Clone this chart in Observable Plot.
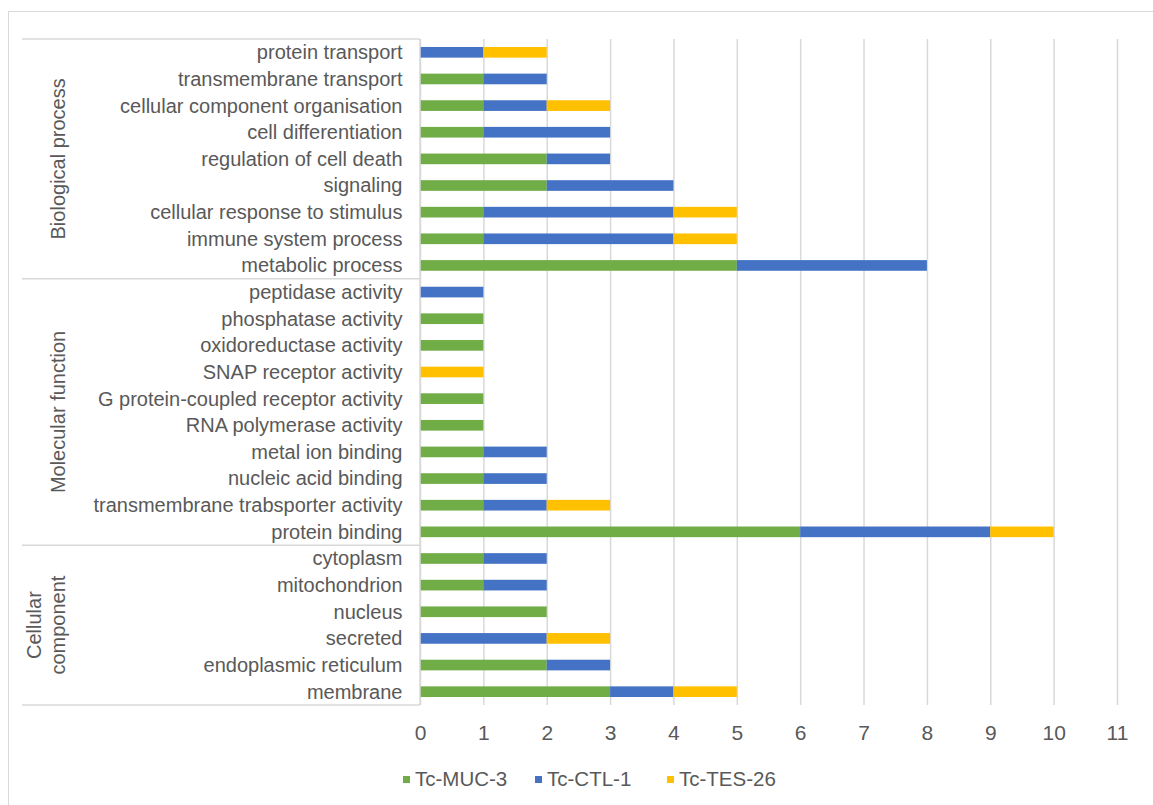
<!DOCTYPE html>
<html>
<head>
<meta charset="utf-8">
<script src="https://cdn.jsdelivr.net/npm/d3@7"></script>
<script src="https://cdn.jsdelivr.net/npm/@observablehq/plot@0.6"></script>
<style>
  html, body { margin: 0; padding: 0; background: #fff; }
  body { width: 1153px; height: 805px; position: relative; overflow: hidden; font-family: "Liberation Sans", Arial, sans-serif; }
  #frame { position: absolute; left: 8px; top: 11px; width: 1200px; height: 850px; border: 1.5px solid #d9d9d9; box-sizing: border-box; }
  #chart { position: absolute; left: 0; top: 0; }
  #legend { position: absolute; left: 403px; top: 767px; display: flex; font-size: 20.5px; color: #595959; }
  #legend .item { display: flex; align-items: center; }
  #legend .sw { width: 7px; height: 7px; margin-right: 5px; }
</style>
</head>
<body>
<div id="frame"></div>
<div id="chart"></div>
<div id="legend"></div>
<script>
// ---- data ----
const seriesNames = ["Tc-MUC-3", "Tc-CTL-1", "Tc-TES-26"];
const seriesColors = ["#70ad47", "#4472c4", "#ffc000"];

const groupNames = ["Biological process", "Molecular function", "Cellular component"];
const groupLabelLines = [["Biological process"], ["Molecular function"], ["Cellular", "component"]];

const bpCategories = ["protein transport", "transmembrane transport", "cellular component organisation",
  "cell differentiation", "regulation of cell death", "signaling", "cellular response to stimulus",
  "immune system process", "metabolic process"];
const bpMUC = [0, 1, 1, 1, 2, 2, 1, 1, 5];
const bpCTL = [1, 1, 1, 2, 1, 2, 3, 3, 3];
const bpTES = [1, 0, 1, 0, 0, 0, 1, 1, 0];

const mfCategories = ["peptidase activity", "phosphatase activity", "oxidoreductase activity",
  "SNAP receptor activity", "G protein-coupled receptor activity", "RNA polymerase activity",
  "metal ion binding", "nucleic acid binding", "transmembrane trabsporter activity", "protein binding"];
const mfMUC = [0, 1, 1, 0, 1, 1, 1, 1, 1, 6];
const mfCTL = [1, 0, 0, 0, 0, 0, 1, 1, 1, 3];
const mfTES = [0, 0, 0, 1, 0, 0, 0, 0, 1, 1];

const ccCategories = ["cytoplasm", "mitochondrion", "nucleus", "secreted", "endoplasmic reticulum", "membrane"];
const ccMUC = [1, 1, 2, 0, 2, 3];
const ccCTL = [1, 1, 0, 2, 1, 1];
const ccTES = [0, 0, 0, 1, 0, 1];

const xTicks = [0, 1, 2, 3, 4, 5, 6, 7, 8, 9, 10, 11];

// ---- build table ----
const groupCats = [bpCategories, mfCategories, ccCategories];
const groupVals = [[bpMUC, bpCTL, bpTES], [mfMUC, mfCTL, mfTES], [ccMUC, ccCTL, ccTES]];
const allCategories = groupCats.flat();
const rows = [];
groupCats.forEach((cats, gi) => {
  cats.forEach((c, ci) => {
    seriesNames.forEach((s, si) => {
      rows.push({category: c, series: s, value: groupVals[gi][si][ci]});
    });
  });
});

const textColor = "#595959";
const ff = "'Liberation Sans', Arial, sans-serif";
const plot = Plot.plot({
  width: 1153,
  height: 805,
  marginLeft: 420,
  marginRight: 36,
  marginTop: 31,
  marginBottom: 92,
  style: {fontFamily: ff, fontSize: "20px", color: textColor, background: "transparent"},
  x: {domain: [0, 11], axis: null, label: null},
  y: {domain: allCategories, padding: 0.6, round: false, axis: null, label: null},
  color: {domain: seriesNames, range: seriesColors},
  marks: [
    Plot.gridX(xTicks, {stroke: "#d9d9d9", strokeOpacity: 1, strokeWidth: 1.5, insetTop: 8, insetBottom: 8}),
    Plot.barX(rows, {x: "value", y: "category", fill: "series", order: seriesNames}),
    Plot.axisY({tickSize: 0, tickPadding: 18, fontSize: 20, fill: textColor, label: null}),
    Plot.axisX({ticks: xTicks, tickSize: 0, tickPadding: 12, fontSize: 21, fill: textColor, label: null})
  ]
});
document.getElementById("chart").appendChild(plot);

// ---- group brackets, from the plot's own y scale ----
const sy = plot.scale("y");
const sx = plot.scale("x");
const step = sy.apply(allCategories[1]) - sy.apply(allCategories[0]);
const bw = sy.bandwidth;
const x0 = sx.apply(0);
const svg = d3.select(plot);
const g = svg.append("g");
const bounds = groupCats.map(cats => [
  sy.apply(cats[0]) + bw / 2 - step / 2,
  sy.apply(cats[cats.length - 1]) + bw / 2 + step / 2
]);
const lineYs = [bounds[0][0], ...bounds.map(b => b[1])];
lineYs.forEach(y => {
  g.append("line").attr("x1", 22).attr("x2", x0).attr("y1", y).attr("y2", y)
    .attr("stroke", "#d9d9d9").attr("stroke-width", 1.5);
});
g.append("line").attr("x1", x0).attr("x2", x0).attr("y1", lineYs[0]).attr("y2", lineYs[lineYs.length - 1])
  .attr("stroke", "#d9d9d9").attr("stroke-width", 1.5);
bounds.forEach((b, i) => {
  const cy = (b[0] + b[1]) / 2;
  const lines = groupLabelLines[i];
  const lh = 24;
  lines.forEach((t, li) => {
    const cx = 58 - (lines.length - 1 - li) * lh;
    g.append("text").attr("transform", `translate(${cx},${cy}) rotate(-90)`)
      .attr("text-anchor", "middle").attr("dy", "0.35em")
      .attr("fill", textColor).attr("font-size", 20).attr("font-family", ff).text(t);
  });
});

// ---- legend ----
const legend = document.getElementById("legend");
seriesNames.forEach((s, i) => {
  const it = document.createElement("div");
  it.className = "item";
  it.style.width = "132px";
  const sw = document.createElement("div");
  sw.className = "sw";
  sw.style.background = seriesColors[i];
  const tx = document.createElement("span");
  tx.textContent = s;
  it.appendChild(sw); it.appendChild(tx);
  legend.appendChild(it);
});
</script>
</body>
</html>
